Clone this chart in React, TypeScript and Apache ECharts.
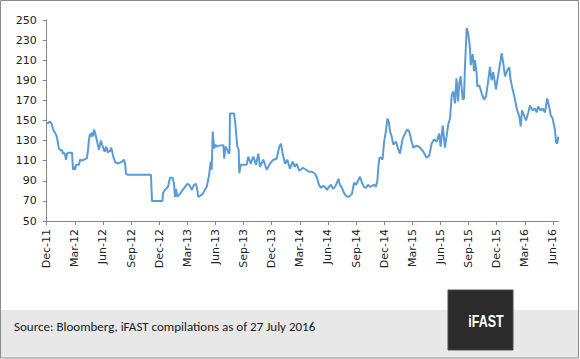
import React, { useEffect, useRef } from "react";
import * as echarts from "echarts";

// Tick labels on the x axis (one every 3 months, starting Dec-11)
const xTickLabels = [
  "Dec-11", "Mar-12", "Jun-12", "Sep-12", "Dec-12", "Mar-13", "Jun-13", "Sep-13",
  "Dec-13", "Mar-14", "Jun-14", "Sep-14", "Dec-14", "Mar-15", "Jun-15", "Sep-15",
  "Dec-15", "Mar-16", "Jun-16",
];

// Time of each observation, in months since the start of Dec 2011
const months = [
  0, 0.14, 0.3, 0.46, 0.57, 0.67, 0.78, 0.89, 0.99, 1.1, 1.21, 1.31, 1.42, 1.53, 1.63, 1.74, 1.85, 1.95, 2.06, 2.17,
  2.27, 2.7, 2.81, 2.91, 3.02, 3.13, 3.45, 3.55, 3.77, 3.98, 4.19, 4.3, 4.41, 4.51, 4.62, 4.73, 4.83, 4.94, 5.05, 5.15,
  5.26, 5.36, 5.47, 5.58, 5.69, 5.79, 5.9, 6.0, 6.11, 6.22, 6.32, 6.43, 6.54, 6.65, 6.75, 6.86, 6.97, 7.07, 7.18, 7.28,
  7.39, 7.6, 7.82, 8.03, 8.24, 8.35, 8.46, 8.67, 11.12, 11.23, 12.35, 12.4, 12.62, 12.94, 13.15, 13.44, 13.58, 13.68, 13.79, 13.93,
  14.22, 14.51, 14.75, 15.0, 15.21, 15.47, 15.71, 15.92, 16.06, 16.17, 16.35, 16.64, 16.88, 17.07, 17.24, 17.34, 17.49, 17.6, 17.71, 17.77,
  17.88, 17.98, 18.13, 18.38, 18.84, 18.94, 19.05, 19.26, 19.41, 19.5, 19.55, 19.98, 20.12, 20.33, 20.48, 20.54, 20.69, 21.33, 21.5, 21.76,
  22.04, 22.32, 22.57, 22.75, 23.1, 23.47, 23.82, 24.17, 24.53, 24.81, 24.99, 25.17, 25.42, 25.66, 25.95, 26.24, 26.48, 26.67, 26.94, 27.34,
  27.66, 27.98, 28.3, 28.62, 28.83, 29.04, 29.26, 29.47, 29.68, 29.9, 30.11, 30.32, 30.54, 30.75, 30.96, 31.12, 31.28, 31.5, 31.71, 31.92,
  32.14, 32.35, 32.56, 32.78, 32.99, 33.2, 33.42, 33.63, 33.84, 34.06, 34.27, 34.48, 34.7, 34.91, 35.12, 35.28, 35.39, 35.5, 35.66, 35.82,
  35.98, 36.19, 36.35, 36.51, 36.62, 36.8, 36.97, 37.26, 37.4, 37.68, 37.97, 38.22, 38.46, 38.67, 38.93, 39.1, 39.46, 39.82, 40.17, 40.53,
  40.81, 41.06, 41.31, 41.6, 41.87, 42.02, 42.24, 42.48, 42.83, 43.02, 43.2, 43.37, 43.55, 43.71, 43.87, 44.01, 44.16, 44.37, 44.51, 44.62,
  44.8, 44.97, 45.15, 45.22, 45.44, 45.58, 45.68, 45.86, 45.93, 46.14, 46.4, 46.64, 46.86, 47.1, 47.28, 47.46, 47.63, 47.92, 48.17, 48.42,
  48.53, 48.7, 48.88, 49.13, 49.34, 49.49, 49.7, 49.95, 50.13, 50.41, 50.56, 50.7, 50.91, 51.12, 51.37, 51.55, 51.84, 52.08, 52.26, 52.43,
  52.69, 52.9, 53.15, 53.39, 53.61, 53.76, 53.97, 54.22, 54.32, 54.46, 54.57,
];

// Index level at each observation
const values = [
  148, 147, 149, 148, 145, 142, 139, 138, 136, 133, 127, 122, 121, 120, 121, 117, 118, 116, 111, 117,
  118, 118, 101, 104, 101, 106, 106, 111, 110, 111, 112, 113, 121, 131, 137, 134, 138, 134, 141, 138,
  134, 130, 125, 121, 126, 130, 126, 124, 120, 119, 124, 122, 118, 120, 119, 123, 120, 115, 112, 109,
  108, 107, 108, 109, 111, 108, 97, 96, 96, 70, 70, 77.5, 81, 84, 93, 93, 87, 74, 82, 74,
  77, 81, 84, 87, 86, 81, 86, 87, 81, 74, 75, 77, 81, 84, 92, 97, 109, 101, 139, 131,
  122, 126, 124, 125, 125.5, 112, 124, 121, 117, 118, 157, 157, 147, 124, 121, 97.5, 106, 106, 114, 107,
  114, 106, 117, 104, 111, 101, 107, 111, 112, 124, 127, 117, 107, 111, 102, 109, 104, 107, 100, 103,
  101, 99, 99, 97, 93, 86, 83, 85, 84, 81, 84, 86, 82, 84, 88, 92, 86, 83, 78, 75,
  74, 75, 77, 88, 86, 90, 94, 88, 84, 83, 86, 84, 85, 86, 84, 91, 105, 113, 113, 111,
  128, 140, 152, 148, 139, 134, 126, 129, 124, 117, 132, 137, 141, 139, 129, 123, 125, 123, 119, 113,
  115, 127, 131, 129, 137, 124, 145, 123, 146, 152, 175, 179, 167, 192, 169, 187, 194, 171, 172, 205,
  242, 236, 222, 205, 216, 199, 210, 197, 184, 185, 177, 171, 174, 190, 203, 190, 198, 181, 196, 210,
  217, 207, 194, 200, 203, 190, 181, 171, 162, 154, 144, 160, 155, 150, 158, 165, 160, 162, 158, 164,
  160, 162, 158, 172, 163, 155, 152, 140, 129, 127, 134,
];

const yMin = 50;
const yMax = 250;
const yStep = 20;
const sourceText = "Source: Bloomberg, iFAST compilations as of 27 July 2016";
const logoText = "iFAST";

export default function App() {
  const ref = useRef<HTMLDivElement>(null);

  useEffect(() => {
    document.body.style.margin = "0";
    const chart = echarts.init(ref.current!, null, { renderer: "svg" });
    const seriesData = months.map((m, i) => [m, values[i]]);
    const tickValues = xTickLabels.map((_, i) => i * 3);
    const axisGray = "#868686";
    const labelColor = "#222222";

    chart.setOption({
      animation: false,
      grid: { left: 46.7, top: 20, width: 511.6, height: 201, containLabel: false },
      xAxis: {
        type: "value",
        min: 0,
        max: 54.57,
        axisLine: { show: true, onZero: false, lineStyle: { color: axisGray, width: 1 } },
        axisTick: { show: true, length: 4, customValues: tickValues, lineStyle: { color: axisGray } },
        axisLabel: {
          customValues: tickValues,
          rotate: 90,
          margin: 8,
          fontFamily: "DejaVu Sans",
          fontSize: 11,
          color: labelColor,
          formatter: (v: number) => {
            const idx = Math.round(v / 3);
            return Math.abs(v - idx * 3) < 0.01 ? xTickLabels[idx] ?? "" : "";
          },
        },
        splitLine: { show: false },
      },
      yAxis: {
        type: "value",
        min: yMin,
        max: yMax,
        interval: yStep,
        axisLine: { show: true, lineStyle: { color: axisGray, width: 1 } },
        axisTick: { show: true, length: 4, lineStyle: { color: axisGray } },
        axisLabel: {
          margin: 10,
          fontFamily: "DejaVu Sans",
          fontSize: 11,
          color: labelColor,
        },
        splitLine: { show: false },
      },
      series: [
        {
          type: "line",
          data: seriesData,
          showSymbol: false,
          symbol: "none",
          lineStyle: { color: "#5B9BD5", width: 2 },
          z: 3,
        },
      ],
      graphic: [
        {
          type: "rect",
          z: -10,
          shape: { x: 1, y: 310, width: 577, height: 47.5 },
          style: { fill: "#e8e8e8" },
          silent: true,
        },
        {
          type: "rect",
          z: 10,
          shape: { x: 0.5, y: 0.5, width: 578, height: 357.5 },
          style: { fill: "none", stroke: "#8a8a8a", lineWidth: 1 },
          silent: true,
        },
        {
          type: "text",
          x: 14,
          y: 326,
          style: {
            text: sourceText,
            fill: "#1a1a1a",
            font: "13px Carlito, Lato, sans-serif",
            textVerticalAlign: "middle",
            textAlign: "left",
          },
          silent: true,
        },
        {
          type: "rect",
          z: 5,
          shape: { x: 448, y: 290, width: 65, height: 60 },
          style: { fill: "#2b2b2b", stroke: "#4a4a4a", lineWidth: 1 },
          silent: true,
        },
        {
          type: "text",
          z: 6,
          x: 486,
          y: 321,
          scaleX: 0.78,
          style: {
            text: logoText,
            fill: "#ffffff",
            font: "bold 16px 'Liberation Sans', Arial, sans-serif",
            textAlign: "center",
            textVerticalAlign: "middle",
          },
          silent: true,
        },
      ],
    });

    return () => chart.dispose();
  }, []);

  return <div ref={ref} style={{ width: 580, height: 359 }} />;
}
